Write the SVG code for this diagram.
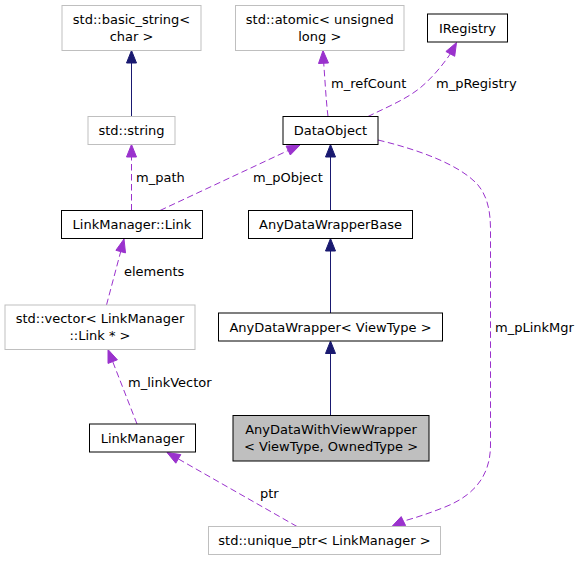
<svg xmlns="http://www.w3.org/2000/svg" width="580" height="561" viewBox="0 0 580 561">
<style>
text{font-family:"DejaVu Sans",Verdana,sans-serif;font-size:13px;fill:#000;text-anchor:middle}
.lbl{text-anchor:start}
.doc{fill:#fff;stroke:#000;stroke-width:1}
.und{fill:#fff;stroke:#bfbfbf;stroke-width:1}
.focus{fill:#bfbfbf;stroke:#000;stroke-width:1}
.inh{fill:none;stroke:#191970;stroke-width:1}
.inhA{fill:#191970;stroke:#191970;stroke-width:1}
.use{fill:none;stroke:#9a32cd;stroke-width:1;stroke-dasharray:6.5,3.5}
.useA{fill:#9a32cd;stroke:#9a32cd;stroke-width:1}
</style>
<rect width="580" height="561" fill="#fff"/>
<g id="edges">
<!-- std::string -> basic_string -->
<path class="inh" d="M131.5,116.5 L131.5,63"/>
<polygon class="inhA" points="131.5,50.5 126.5,63 136.5,63"/>
<!-- Link -> std::string : m_path -->
<path class="use" d="M131.5,210.5 L131.5,157"/>
<polygon class="useA" points="131.5,144.5 126.5,157 136.5,157"/>
<text class="lbl" x="136" y="182">m_path</text>
<!-- Link -> DataObject : m_pObject -->
<path class="use" d="M160,210.5 L288.2,150.5"/>
<polygon class="useA" points="300,145 290.3,155 286.1,146"/>
<text class="lbl" x="253" y="182">m_pObject</text>
<!-- DataObject -> atomic : m_refCount -->
<path class="use" d="M328,116.5 C326,100 325,80 323.7,63"/>
<polygon class="useA" points="323,50.5 318.5,63.5 328.5,63"/>
<text class="lbl" x="331" y="88">m_refCount</text>
<!-- DataObject -> IRegistry : m_pRegistry -->
<path class="use" d="M368,116.5 C385,108 405,100 420,88 C432,78 442,66 450.3,53.9"/>
<polygon class="useA" points="456.5,42.5 454.7,56.3 445.9,51.5"/>
<text class="lbl" x="436" y="88">m_pRegistry</text>
<!-- AnyDataWrapperBase -> DataObject -->
<path class="inh" d="M330.5,210.5 L330.5,157"/>
<polygon class="inhA" points="330.5,144.5 325.5,157 335.5,157"/>
<!-- AnyDataWrapper -> AnyDataWrapperBase -->
<path class="inh" d="M330.5,313 L330.5,251"/>
<polygon class="inhA" points="330.5,238.5 325.5,251 335.5,251"/>
<!-- AnyDataWithViewWrapper -> AnyDataWrapper -->
<path class="inh" d="M330.5,415.5 L330.5,353.5"/>
<polygon class="inhA" points="330.5,341 325.5,353.5 335.5,353.5"/>
<!-- vector -> Link : elements -->
<path class="use" d="M106.5,305 L120.7,251.6"/>
<polygon class="useA" points="124,239 125.5,252.9 115.9,250.3"/>
<text class="lbl" x="124" y="276">elements</text>
<!-- LinkManager -> vector : m_linkVector -->
<path class="use" d="M137,424 L112.7,361.6"/>
<polygon class="useA" points="108,349.5 117.4,359.8 108,363.4"/>
<text class="lbl" x="128" y="387">m_linkVector</text>
<!-- unique_ptr -> LinkManager : ptr -->
<path class="use" d="M297,526.5 L178.3,458.9"/>
<polygon class="useA" points="167,452.5 180.8,454.6 175.8,463.2"/>
<text class="lbl" x="260" y="498">ptr</text>
<!-- DataObject -> unique_ptr : m_pLinkMgr -->
<path class="use" d="M378,140 C420,150 460,165 478,185 C487,196 490.5,210 490.5,230 L490.5,445 C490.5,475 475,495 445,507 C430,513 415,518 403.4,521.1"/>
<polygon class="useA" points="391.7,526.7 405.6,525.6 401.2,516.6"/>
<text class="lbl" x="495" y="332">m_pLinkMgr</text>
</g>
<g id="node-basic_string">
<rect class="und" x="62" y="5.5" width="139" height="45"/>
<text x="131.5" y="23.5">std::basic_string&lt;</text>
<text x="131.5" y="40.5">char &gt;</text>
</g>
<g id="node-atomic">
<rect class="und" x="235.5" y="5.5" width="168.5" height="45"/>
<text x="319.75" y="23.5">std::atomic&lt; unsigned</text>
<text x="319.75" y="40.5">long &gt;</text>
</g>
<g id="node-IRegistry">
<rect class="doc" x="427.5" y="14" width="80" height="28"/>
<text x="467.5" y="32.5">IRegistry</text>
</g>
<g id="node-string">
<rect class="und" x="88" y="116.5" width="87" height="28"/>
<text x="131.5" y="135">std::string</text>
</g>
<g id="node-DataObject">
<rect class="doc" x="283" y="116.5" width="95" height="28"/>
<text x="330.5" y="135">DataObject</text>
</g>
<g id="node-Link">
<rect class="doc" x="61.5" y="210.5" width="141" height="28"/>
<text x="132" y="229">LinkManager::Link</text>
</g>
<g id="node-AnyDataWrapperBase">
<rect class="doc" x="248.5" y="210.5" width="164" height="28"/>
<text x="330.5" y="229">AnyDataWrapperBase</text>
</g>
<g id="node-vector">
<rect class="und" x="5" y="305" width="190" height="44.5"/>
<text x="100" y="323">std::vector&lt; LinkManager</text>
<text x="100" y="340">::Link * &gt;</text>
</g>
<g id="node-AnyDataWrapper">
<rect class="doc" x="218.5" y="313" width="224" height="28"/>
<text x="330.5" y="331.5">AnyDataWrapper&lt; ViewType &gt;</text>
</g>
<g id="node-LinkManager">
<rect class="doc" x="89.5" y="424" width="106" height="28"/>
<text x="142.5" y="442.5">LinkManager</text>
</g>
<g id="node-AnyDataWithViewWrapper">
<rect class="focus" x="233" y="415.5" width="196" height="45.5"/>
<text x="331" y="433.5">AnyDataWithViewWrapper</text>
<text x="331" y="450.5">&lt; ViewType, OwnedType &gt;</text>
</g>
<g id="node-unique_ptr">
<rect class="und" x="208.5" y="526.5" width="232" height="28"/>
<text x="324.5" y="545">std::unique_ptr&lt; LinkManager &gt;</text>
</g>
</svg>
